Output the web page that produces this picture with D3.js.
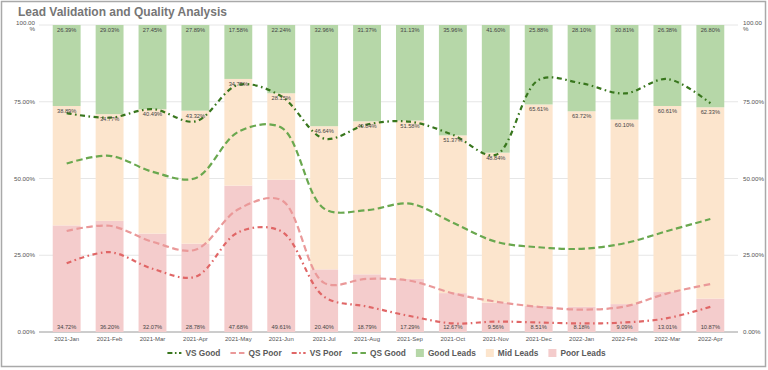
<!DOCTYPE html>
<html>
<head>
<meta charset="utf-8">
<script src="https://cdn.jsdelivr.net/npm/d3@7"></script>
<style>
    body { margin: 0; background: #fff; }
    svg text { font-family: "Liberation Sans", Arial, sans-serif; }
</style>
</head>
<body>
<div id="chart"></div>
<script>
// chart data
const months = ["2021-Jan", "2021-Feb", "2021-Mar", "2021-Apr", "2021-May", "2021-Jun", "2021-Jul", "2021-Aug",
    "2021-Sep", "2021-Oct", "2021-Nov", "2021-Dec", "2022-Jan", "2022-Feb", "2022-Mar", "2022-Apr"];
const goodLeads = [26.39, 29.03, 27.45, 27.89, 17.58, 22.24, 32.96, 31.37, 31.13, 35.96, 41.60, 25.88, 28.10, 30.81, 26.38, 26.80];
const midLeads = [38.89, 34.77, 40.49, 43.32, 34.75, 28.15, 46.64, 49.84, 51.58, 51.37, 48.84, 65.61, 63.72, 60.10, 60.61, 62.33];
const poorLeads = [34.72, 36.20, 32.07, 28.78, 47.68, 49.61, 20.40, 18.79, 17.29, 12.67, 9.56, 8.51, 8.18, 9.09, 13.01, 10.87];
const vsGood = [71.3, 69.8, 72.6, 68.6, 80.5, 76.8, 63.0, 67.6, 68.5, 64.2, 57.7, 82.1, 81.0, 77.7, 82.4, 74.5];
const qsGood = [54.9, 57.4, 52.2, 50.1, 65.2, 66.6, 40.2, 39.7, 41.8, 35.6, 29.4, 27.6, 27.1, 28.9, 32.9, 36.8];
const qsPoor = [32.9, 34.6, 29.4, 26.8, 40.0, 43.0, 16.0, 17.3, 16.7, 12.6, 9.9, 8.2, 7.3, 8.3, 12.6, 15.6];
const vsPoor = [22.4, 26.0, 20.6, 18.0, 32.5, 32.8, 11.5, 8.3, 5.2, 2.8, 3.4, 3.1, 2.8, 3.1, 4.5, 8.2];
const yTicks = [0, 25, 50, 75, 100];

class LeadChart {
    constructor(parentElement) {
        this.parentElement = parentElement;
        this.barColors = { good: "#b6d7a8", mid: "#fce5cd", poor: "#f4cccc" };
        this.initVis();
    }

    initVis() {
        let vis = this;

        vis.width = 768;
        vis.height = 370;
        vis.plot = { left: 39, right: 738, top: 25, bottom: 332 };

        vis.svg = d3.select("#" + vis.parentElement).append("svg")
            .attr("width", vis.width)
            .attr("height", vis.height);

        // frame
        vis.svg.append("rect")
            .attr("x", 1.5).attr("y", 1.5)
            .attr("width", 764).attr("height", 365)
            .attr("fill", "#fff")
            .attr("stroke", "#a9a9a9")
            .attr("stroke-width", 1.5);

        // title
        vis.svg.append("text")
            .attr("x", 18).attr("y", 16)
            .attr("font-size", 12)
            .attr("font-weight", "bold")
            .attr("fill", "#767676")
            .text("Lead Validation and Quality Analysis");

        // scales
        vis.x = d3.scaleBand()
            .domain(months)
            .range([vis.plot.left, vis.plot.right])
            .paddingInner(0.35)
            .paddingOuter(0.32);

        vis.y = d3.scaleLinear()
            .domain([0, 100])
            .range([vis.plot.bottom, vis.plot.top]);

        vis.wrangleData();
    }

    wrangleData() {
        let vis = this;

        vis.stackData = months.map((m, i) => ({
            month: m, poor: poorLeads[i], mid: midLeads[i], good: goodLeads[i]
        }));
        vis.series = d3.stack().keys(["poor", "mid", "good"])(vis.stackData);

        vis.lines = [
            { name: "QS Good", values: qsGood, color: "#6aa84f", dash: "6.5,3.5" },
            { name: "QS Poor", values: qsPoor, color: "#ea9999", dash: "6.5,3.5" },
            { name: "VS Poor", values: vsPoor, color: "#e06666", dash: "5,3.5,1.6,3.5" },
            { name: "VS Good", values: vsGood, color: "#38761d", dash: "5,3.5,1.6,3.5" }
        ];

        vis.updateVis();
    }

    updateVis() {
        let vis = this;
        let fmt = d3.format(".2f");

        // grid lines
        vis.svg.append("g").selectAll("line")
            .data(yTicks)
            .join("line")
            .attr("x1", vis.plot.left).attr("x2", vis.plot.right)
            .attr("y1", d => vis.y(d)).attr("y2", d => vis.y(d))
            .attr("stroke", d => d === 0 ? "#9a9a9a" : "#e6e6e6")
            .attr("stroke-width", 1);

        // y labels on both sides
        [{ x: 35, anchor: "end" }, { x: 743, anchor: "start" }].forEach(side => {
            let g = vis.svg.append("g")
                .attr("font-size", 6.2)
                .attr("fill", "#555")
                .attr("text-anchor", side.anchor);
            yTicks.forEach(t => {
                if (t === 100) {
                    g.append("text").attr("x", side.x).attr("y", vis.y(t) - 0.5).text(fmt(t));
                    g.append("text").attr("x", side.x).attr("y", vis.y(t) + 6).text("%");
                } else {
                    g.append("text").attr("x", side.x).attr("y", vis.y(t) + 2).text(fmt(t) + "%");
                }
            });
        });

        // x labels
        vis.svg.append("g")
            .attr("font-size", 6)
            .attr("fill", "#555")
            .attr("text-anchor", "middle")
            .selectAll("text")
            .data(months)
            .join("text")
            .attr("x", d => vis.x(d) + vis.x.bandwidth() / 2)
            .attr("y", 341)
            .text(d => d);

        // stacked bars
        vis.svg.append("g").selectAll("g")
            .data(vis.series)
            .join("g")
            .attr("fill", d => vis.barColors[d.key])
            .selectAll("rect")
            .data(d => d)
            .join("rect")
            .attr("x", d => vis.x(d.data.month))
            .attr("y", d => vis.y(d[1]))
            .attr("width", vis.x.bandwidth())
            .attr("height", d => vis.y(d[0]) - vis.y(d[1]));

        // lines
        let line = d3.line()
            .x((d, i) => vis.x(months[i]) + vis.x.bandwidth() / 2)
            .y(d => vis.y(d))
            .curve(d3.curveCatmullRom.alpha(0.5));

        vis.svg.append("g").selectAll("path")
            .data(vis.lines)
            .join("path")
            .attr("d", d => line(d.values))
            .attr("fill", "none")
            .attr("stroke", d => d.color)
            .attr("stroke-width", 2.2)
            .attr("stroke-dasharray", d => d.dash);

        // bar labels
        let labels = vis.svg.append("g")
            .attr("font-size", 5.7)
            .attr("fill", "#444")
            .attr("text-anchor", "middle");

        vis.series.forEach(s => {
            labels.selectAll(null)
                .data(s)
                .join("text")
                .attr("x", d => vis.x(d.data.month) + vis.x.bandwidth() / 2)
                .attr("y", d => s.key === "poor" ? vis.y(d[0]) - 3 : vis.y(d[1]) + 7)
                .text(d => fmt(d.data[s.key]) + "%");
        });

        // legend
        let legendItems = [
            { name: "VS Good", type: "line", color: "#38761d", dash: "5,2.5,1.6,2.5" },
            { name: "QS Poor", type: "line", color: "#ea9999", dash: "5.5,3" },
            { name: "VS Poor", type: "line", color: "#e06666", dash: "5,2.5,1.6,2.5" },
            { name: "QS Good", type: "line", color: "#6aa84f", dash: "5.5,3" },
            { name: "Good Leads", type: "box", color: vis.barColors.good },
            { name: "Mid Leads", type: "box", color: vis.barColors.mid },
            { name: "Poor Leads", type: "box", color: vis.barColors.poor }
        ];

        let legend = vis.svg.append("g");
        let cursor = 0;
        let legendY = 353;
        legendItems.forEach(item => {
            let g = legend.append("g").attr("transform", `translate(${cursor},0)`);
            let symW = item.type === "line" ? 14 : 8;
            if (item.type === "line") {
                g.append("line")
                    .attr("x1", 0).attr("x2", symW)
                    .attr("y1", legendY).attr("y2", legendY)
                    .attr("stroke", item.color)
                    .attr("stroke-width", 2.2)
                    .attr("stroke-dasharray", item.dash);
            } else {
                g.append("rect")
                    .attr("x", 0).attr("y", legendY - 4)
                    .attr("width", symW).attr("height", 8)
                    .attr("fill", item.color);
            }
            let t = g.append("text")
                .attr("x", symW + 4)
                .attr("y", legendY + 3)
                .attr("font-size", 8.3)
                .attr("font-weight", "bold")
                .attr("fill", "#5a5a5a")
                .text(item.name);
            cursor += symW + 4 + t.node().getComputedTextLength() + 10;
        });
        let legendW = cursor - 10;
        legend.attr("transform", `translate(${386.5 - legendW / 2},0)`);
    }
}

new LeadChart("chart");
</script>
</body>
</html>
